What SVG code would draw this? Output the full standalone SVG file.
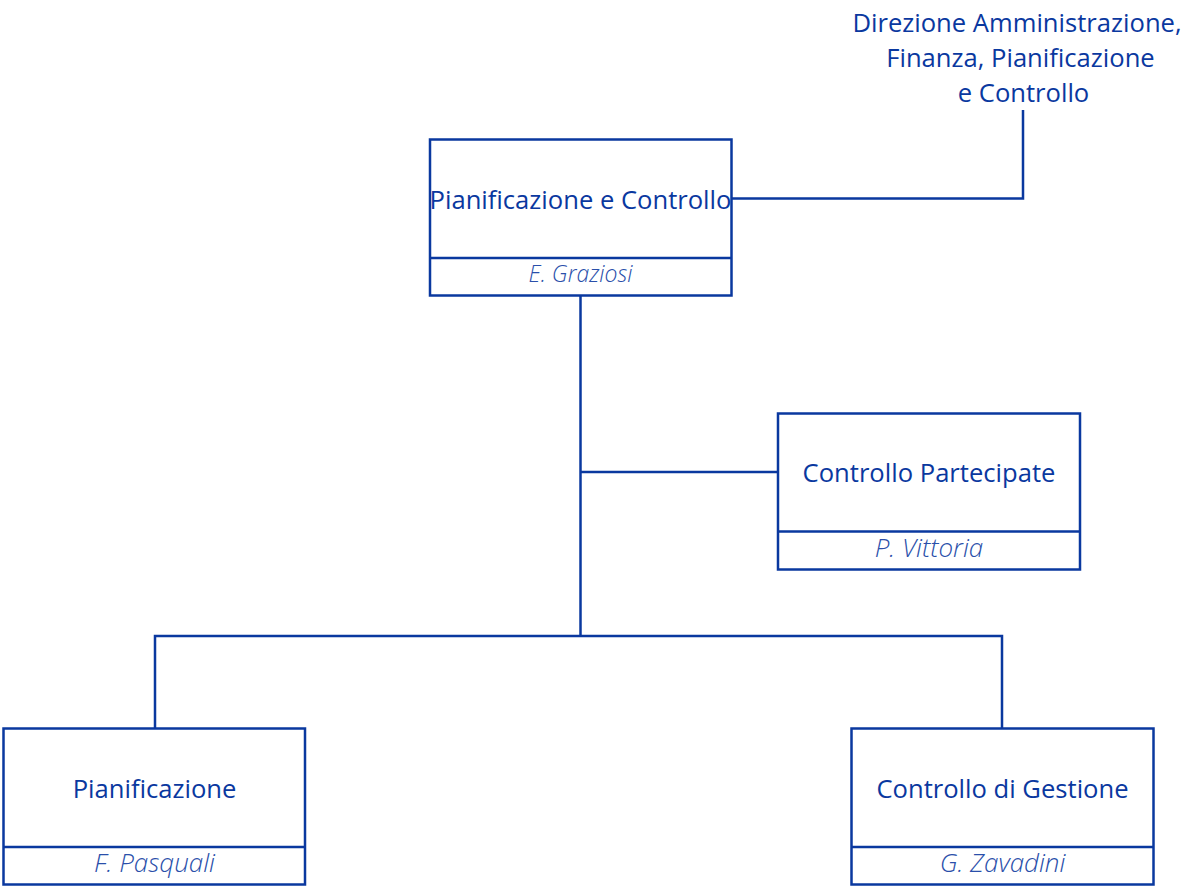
<svg xmlns="http://www.w3.org/2000/svg" width="1192" height="888" viewBox="0 0 1192 888">
<style>
.box{fill:#fff;stroke:#0a389f;stroke-width:2.5}
.ln{fill:none;stroke:#0a389f;stroke-width:2.5}
.t{font-family:"Open Sans","Liberation Sans",sans-serif;font-size:25.6px;fill:#0a389f;text-anchor:middle}
.n{font-family:"Open Sans","Liberation Sans",sans-serif;font-size:26px;font-style:italic;font-weight:300;fill:#2a4faa;text-anchor:middle}
</style>
<rect width="1192" height="888" fill="#fff"/>
<g id="connectors">
<polyline class="ln" points="731,198.5 1023,198.5 1023,110"/>
<line class="ln" x1="580.5" y1="295" x2="580.5" y2="636"/>
<line class="ln" x1="580.5" y1="472" x2="777" y2="472"/>
<polyline class="ln" points="155,728 155,636 1002,636 1002,728"/>
</g>
<g id="top-label">
<text class="t" x="1017" y="32">Direzione Amministrazione,</text>
<text class="t" x="1020.5" y="67">Finanza, Pianificazione</text>
<text class="t" x="1023.5" y="102">e Controllo</text>
</g>
<g id="node-pc">
<rect class="box" x="430" y="139.5" width="301.5" height="156"/>
<line class="ln" x1="430" y1="258" x2="731.5" y2="258"/>
<text class="t" x="580.5" y="209">Pianificazione e Controllo</text>
<text class="n" x="580.5" y="282" style="font-size:23px">E. Graziosi</text>
</g>
<g id="node-cp">
<rect class="box" x="778" y="413.5" width="302" height="156"/>
<line class="ln" x1="778" y1="531.5" x2="1080" y2="531.5"/>
<text class="t" x="929" y="482">Controllo Partecipate</text>
<text class="n" x="929" y="557">P. Vittoria</text>
</g>
<g id="node-p">
<rect class="box" x="3.5" y="728.5" width="301.5" height="156"/>
<line class="ln" x1="3.5" y1="847" x2="305" y2="847"/>
<text class="t" x="154.5" y="798">Pianificazione</text>
<text class="n" x="154.5" y="872">F. Pasquali</text>
</g>
<g id="node-cg">
<rect class="box" x="851.5" y="728.5" width="302" height="156"/>
<line class="ln" x1="851.5" y1="847" x2="1153.5" y2="847"/>
<text class="t" x="1002.5" y="798">Controllo di Gestione</text>
<text class="n" x="1002.5" y="872">G. Zavadini</text>
</g>
</svg>
